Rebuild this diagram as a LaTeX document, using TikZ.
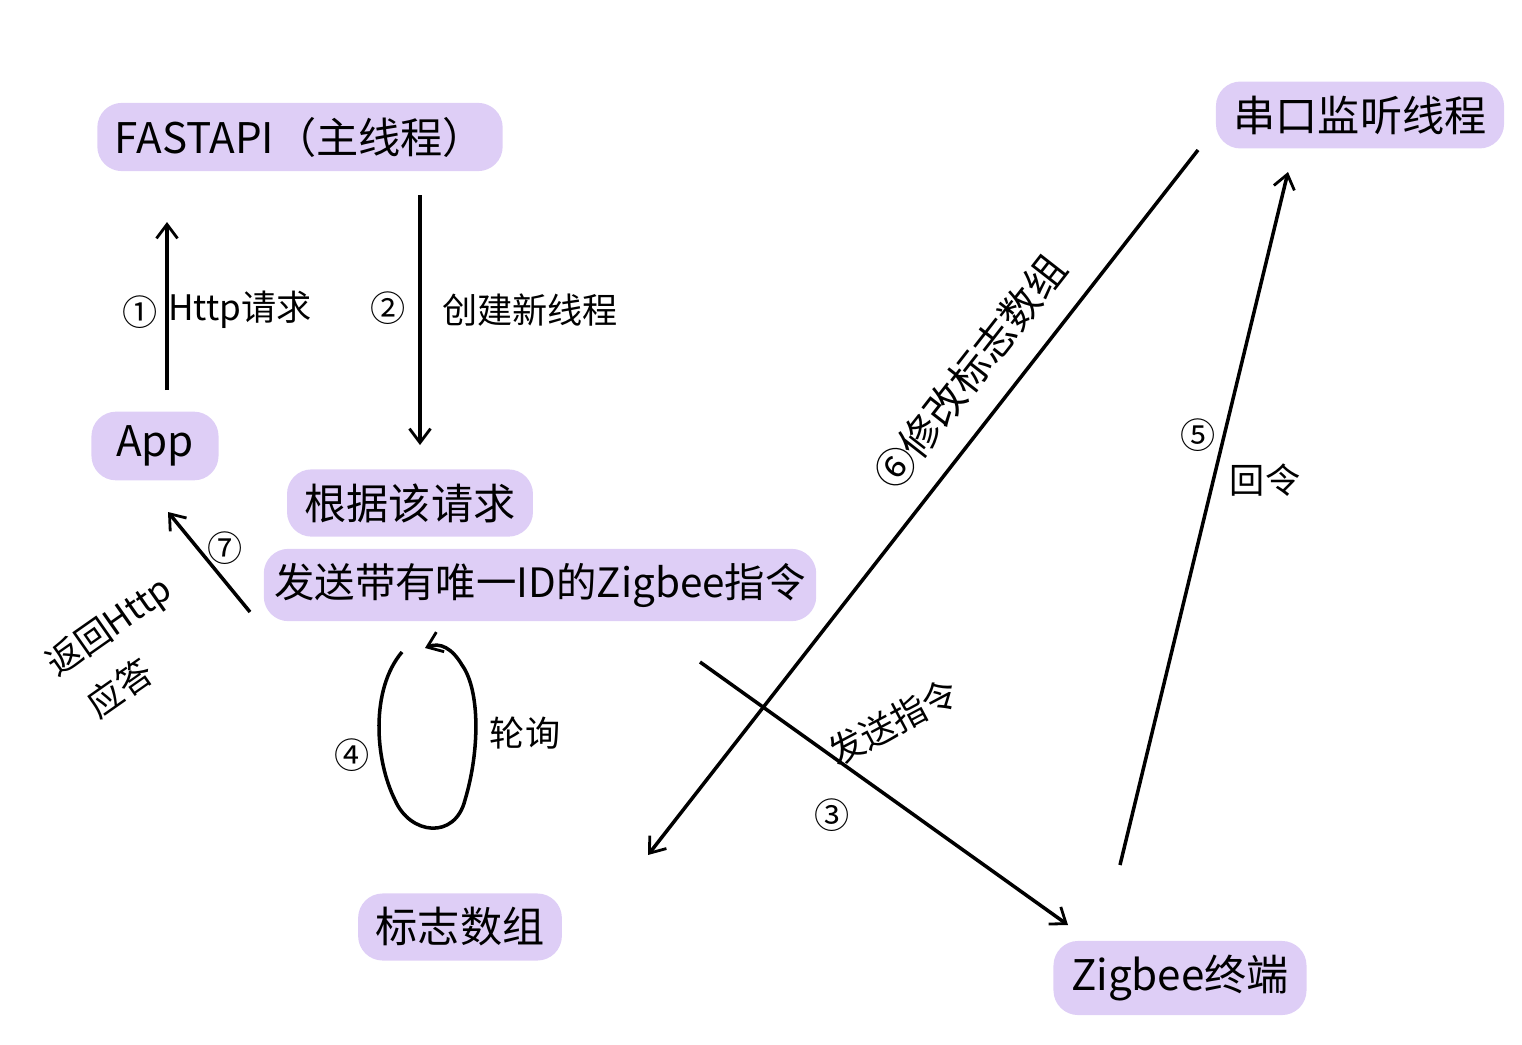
\documentclass[tikz,border=0pt]{standalone}
\usepackage{fontspec}
\setmainfont{Noto Sans CJK SC}
\usetikzlibrary{arrows.meta}
\definecolor{blob}{RGB}{222,206,246}
\tikzset{
  blobnode/.style={fill=blob, rounded corners=14pt, inner xsep=10pt, inner ysep=8pt, font=\fontsize{24}{28}\selectfont},
  lbl/.style={font=\fontsize{20}{24}\selectfont, inner sep=1pt},
  conn/.style={line width=2pt, -{Straight Barb[length=8pt,width=12pt,line width=1.6pt]}},
}
\begin{document}
\begin{tikzpicture}[x=0.02cm,y=-0.02cm]
\useasboundingbox (0,0) rectangle (1522,1045);
% nodes
\node[blobnode] (fast) at (300,137) {FASTAPI（主线程）};
\node[blobnode] (serial) at (1360,115) {串口监听线程};
\node[blobnode, inner xsep=14pt] (app) at (155,446) {App};
\node[blobnode] (req) at (410,503) {根据该请求};
\node[blobnode, inner xsep=6pt, font=\fontsize{23}{27}\selectfont] (send) at (540,585) {发送带有唯一ID的Zigbee指令};
\node[blobnode] (flag) at (460,927) {标志数组};
\node[blobnode] (zig) at (1180,978) {Zigbee终端};
% coordinates for connector ends
\coordinate (a1s) at (167,390); \coordinate (a1e) at (167,222);
\coordinate (a2s) at (420,195); \coordinate (a2e) at (420,445);
\coordinate (a7s) at (250,612); \coordinate (a7e) at (168,512);
\coordinate (a6s) at (1198,150); \coordinate (a6e) at (648,855);
\coordinate (a3s) at (700,662); \coordinate (a3e) at (1068,925);
\coordinate (a5s) at (1120,865); \coordinate (a5e) at (1288,172);
\coordinate (l1) at (402,652); \coordinate (l2) at (425,648);
% connectors
\draw[conn] (a1s) -- (a1e);
\draw[conn] (a2s) -- (a2e);
\draw[conn] (a7s) -- (a7e);
\draw[conn] (a6s) -- (a6e);
\draw[conn] (a3s) -- (a3e);
\draw[conn] (a5s) -- (a5e);
\draw[conn] (l1) .. controls (370,690) and (375,760) .. (395,800)
  .. controls (410,835) and (455,840) .. (465,800)
  .. controls (480,750) and (480,690) .. (462,665)
  .. controls (452,648) and (440,642) .. (l2);
% labels
\node[lbl] (n1) at (140,312) {①};
\node[lbl] (t1) at (240,310) {Http请求};
\node[lbl] (n2) at (388,308) {②};
\node[lbl] (t2) at (530,310) {创建新线程};
\node[lbl] (n7) at (225,548) {⑦};
\node[lbl, rotate=35] (t7a) at (110,628) {返回Http};
\node[lbl, rotate=35] (t7b) at (120,688) {应答};
\node[lbl] (n4) at (352,755) {④};
\node[lbl] (t4) at (525,733) {轮询};
\node[lbl, rotate=52, font=\fontsize{23}{27}\selectfont] (t6) at (970,372) {⑥修改标志数组};
\node[lbl, rotate=28] (t3) at (893,722) {发送指令};
\node[lbl] (n3) at (832,815) {③};
\node[lbl] (n5) at (1198,435) {⑤};
\node[lbl] (t5) at (1265,480) {回令};
\end{tikzpicture}
\end{document}
